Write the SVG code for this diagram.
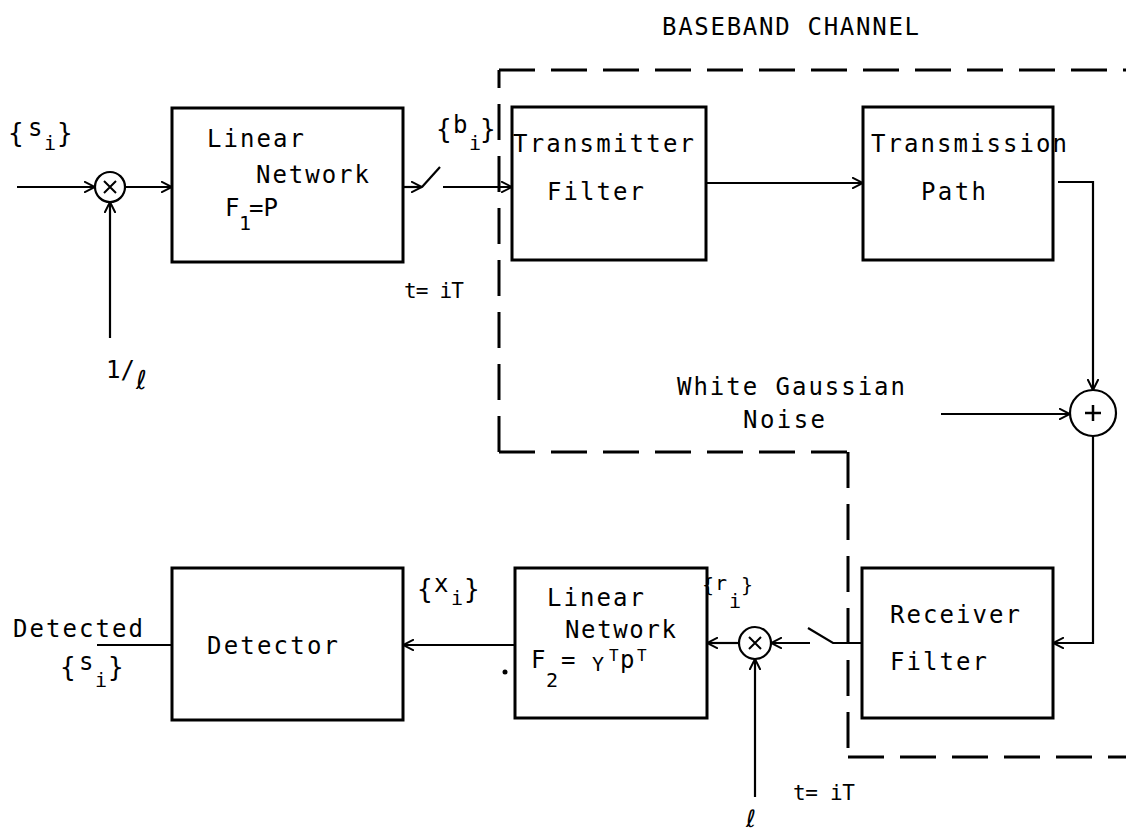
<svg xmlns="http://www.w3.org/2000/svg" width="1126" height="835" viewBox="0 0 1126 835">
<style>
.box{fill:none;stroke:#000;stroke-width:3}
.ln{fill:none;stroke:#000;stroke-width:2.2}
.dash{fill:none;stroke:#000;stroke-width:3;stroke-dasharray:36 16}
.t{font-family:"DejaVu Sans Mono","Liberation Mono",monospace;font-size:24px;fill:#000}
.s{font-size:20px}
.br{font-size:26px}
</style>
<defs>
<marker id="arr" viewBox="0 0 12 12" refX="11" refY="6" markerWidth="12" markerHeight="12" markerUnits="userSpaceOnUse" orient="auto">
<path d="M0,0.5 L11,6 L0,11.5" fill="none" stroke="#000" stroke-width="2"/>
</marker>
</defs>
<rect width="1126" height="835" fill="#fff"/>

<g id="channel-boundary">
<path class="dash" d="M499,70 H1126"/>
<path class="dash" d="M499,452 V70"/>
<path class="dash" d="M499,452 H848"/>
<path class="dash" d="M848,452 V757"/>
<path class="dash" d="M848,757 H1126"/>
<text class="t" x="662" y="35" textLength="257">BASEBAND CHANNEL</text>
</g>

<g id="connectors">
<path class="ln" d="M17,187 H95" marker-end="url(#arr)"/>
<path class="ln" d="M125,187 H172" marker-end="url(#arr)"/>
<path class="ln" d="M110,338 V202" marker-end="url(#arr)"/>
<path class="ln" d="M403,187 H422" marker-end="url(#arr)"/>
<path class="ln" d="M422,187 L440,167"/>
<path class="ln" d="M443,187 H512" marker-end="url(#arr)"/>
<path class="ln" d="M706,183 H863" marker-end="url(#arr)"/>
<path class="ln" d="M1058,182 H1093 V390" marker-end="url(#arr)"/>
<path class="ln" d="M941,414 H1070" marker-end="url(#arr)"/>
<path class="ln" d="M1093,436 V643 H1053" marker-end="url(#arr)"/>
<path class="ln" d="M862,643 H833 L808,628"/>
<path class="ln" d="M810,643 H771" marker-end="url(#arr)"/>
<path class="ln" d="M739,643 H707" marker-end="url(#arr)"/>
<path class="ln" d="M755,797 V659" marker-end="url(#arr)"/>
<path class="ln" d="M515,645 H403" marker-end="url(#arr)"/>
<path class="ln" d="M172,645 H97"/>
</g>

<g id="input-label">
<text class="t"><tspan class="br" x="8" y="142">{</tspan><tspan x="28" y="136">s</tspan><tspan class="s" x="44" y="150">i</tspan><tspan class="br" x="57" y="142">}</tspan></text>
</g>

<g id="mult1">
<circle cx="110" cy="187" r="15" fill="none" stroke="#000" stroke-width="2.2"/>
<path d="M104,181 L116,193 M116,181 L104,193" stroke="#000" stroke-width="2"/>
</g>

<g id="scale1">
<text class="t"><tspan x="106" y="378">1/</tspan><tspan x="136" y="389" style="font-family:'DejaVu Sans',sans-serif;font-size:26px">ℓ</tspan></text>
</g>

<g id="linear-network-1">
<rect class="box" x="172" y="108" width="231" height="154"/>
<text class="t" x="207" y="147" textLength="97">Linear</text>
<text class="t" x="256" y="183" textLength="113">Network</text>
<text class="t"><tspan x="225" y="216">F</tspan><tspan class="s" x="239" y="230">1</tspan><tspan x="249" y="216">=P</tspan></text>
</g>

<g id="sampler1">
<text class="t" x="404" y="298" style="font-size:21px" textLength="60">t= iT</text>
<text class="t"><tspan class="br" x="436" y="138">{</tspan><tspan x="453" y="133">b</tspan><tspan class="s" x="469" y="150">i</tspan><tspan class="br" x="480" y="138">}</tspan></text>
</g>

<g id="transmitter-filter">
<rect class="box" x="512" y="107" width="194" height="153"/>
<text class="t" x="513" y="152" textLength="181">Transmitter</text>
<text class="t" x="547" y="200" textLength="97">Filter</text>
</g>

<g id="transmission-path">
<rect class="box" x="863" y="107" width="190" height="153"/>
<text class="t" x="871" y="152" textLength="196">Transmission</text>
<text class="t" x="921" y="200" textLength="65">Path</text>
</g>

<g id="noise">
<text class="t" x="677" y="395" textLength="228">White Gaussian</text>
<text class="t" x="743" y="428" textLength="82">Noise</text>
</g>

<g id="adder">
<circle cx="1093" cy="413" r="23" fill="none" stroke="#000" stroke-width="2.2"/>
<path d="M1093,405 V421 M1085,413 H1101" stroke="#000" stroke-width="2.5"/>
</g>

<g id="receiver-filter">
<rect class="box" x="862" y="568" width="191" height="150"/>
<text class="t" x="890" y="623" textLength="130">Receiver</text>
<text class="t" x="890" y="670" textLength="97">Filter</text>
</g>

<g id="sampler2">
<text class="t" x="793" y="800" style="font-size:21px" textLength="62">t= iT</text>
<text class="t"><tspan class="s" x="702" y="592">{</tspan><tspan class="s" x="715" y="590">r</tspan><tspan class="s" x="729" y="608">i</tspan><tspan class="s" x="741" y="592">}</tspan></text>
</g>

<g id="mult2">
<circle cx="755" cy="643" r="16" fill="none" stroke="#000" stroke-width="2.2"/>
<path d="M749,637 L761,649 M761,637 L749,649" stroke="#000" stroke-width="2"/>
</g>

<g id="scale2">
<text class="t" x="746" y="827" style="font-family:'DejaVu Sans',sans-serif;font-size:24px">ℓ</text>
</g>

<g id="linear-network-2">
<rect class="box" x="515" y="568" width="192" height="150"/>
<text class="t" x="547" y="606" textLength="97">Linear</text>
<text class="t" x="565" y="638" textLength="111">Network</text>
<text class="t"><tspan x="531" y="668">F</tspan><tspan class="s" x="546" y="687">2</tspan><tspan x="561" y="668">=</tspan><tspan x="592" y="671" style="font-size:20px">Y</tspan><tspan x="609" y="661" style="font-size:16px">T</tspan><tspan x="620" y="668">p</tspan><tspan x="637" y="661" style="font-size:16px">T</tspan></text>
<circle cx="505" cy="672" r="2.5" fill="#000"/>
</g>

<g id="x-label">
<text class="t"><tspan class="br" x="417" y="598">{</tspan><tspan x="434" y="592">x</tspan><tspan class="s" x="451" y="605">i</tspan><tspan class="br" x="464" y="598">}</tspan></text>
</g>

<g id="detector">
<rect class="box" x="172" y="568" width="231" height="152"/>
<text class="t" x="207" y="654" textLength="131">Detector</text>
</g>

<g id="output-label">
<text class="t" x="13" y="637" textLength="130">Detected</text>
<text class="t"><tspan class="br" x="60" y="676">{</tspan><tspan x="79" y="670">s</tspan><tspan class="s" x="95" y="687">i</tspan><tspan class="br" x="108" y="676">}</tspan></text>
</g>
</svg>
